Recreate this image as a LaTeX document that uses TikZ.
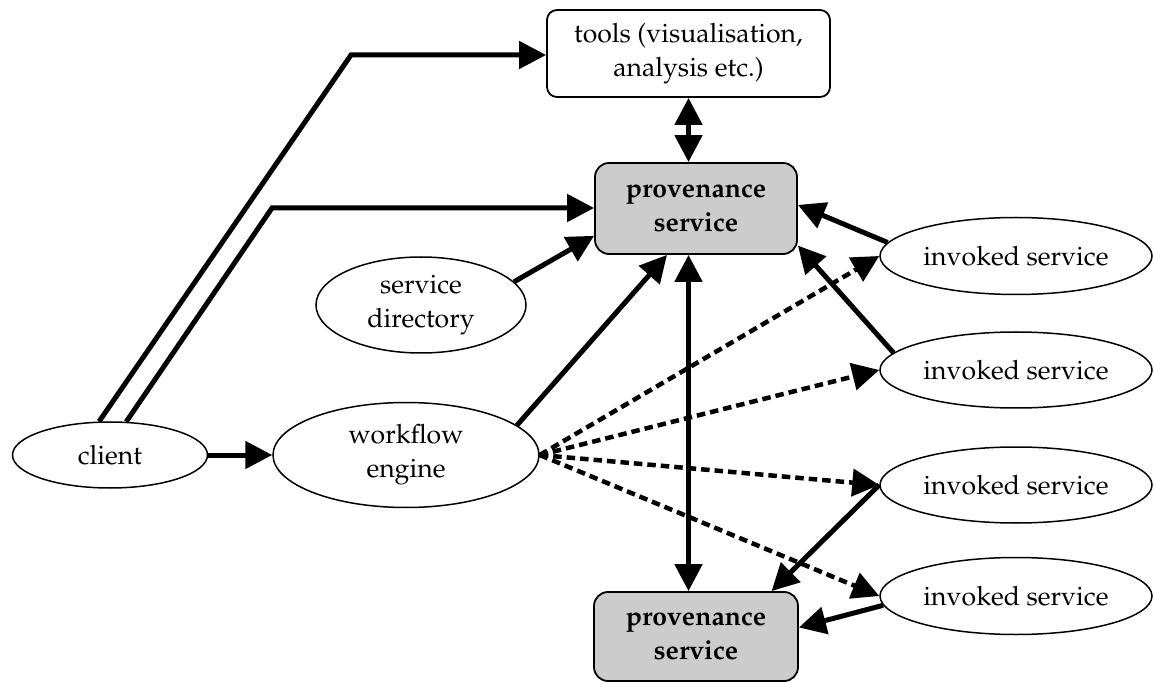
\documentclass[tikz,border=0pt]{standalone}
\usepackage[T1]{fontenc}
\usepackage{mathpazo}
\usetikzlibrary{shapes.geometric,arrows.meta,calc}

\tikzset{
  txt/.style={font=\fontsize{26.6}{34}\selectfont, align=center, inner sep=0pt},
  oval/.style={txt, ellipse, draw, line width=1.5pt},
  toolbox/.style={txt, rectangle, draw, line width=1.8pt, rounded corners=10pt},
  provbox/.style={txt, rectangle, draw, line width=1.8pt, rounded corners=14pt,
                  fill=provgray, font=\fontsize{26.6}{34}\selectfont\bfseries},
  arr/.style={line width=5pt, -{Triangle[length=27pt,width=27pt]}},
  dbl/.style={line width=5pt, {Triangle[length=27pt,width=27pt]}-{Triangle[length=27pt,width=27pt]}},
  darr/.style={line width=4.5pt, -{Triangle[length=27pt,width=27pt]}, dash pattern=on 8.5pt off 5pt},
}
\definecolor{provgray}{HTML}{CCCCCC}

\begin{document}
\begin{tikzpicture}[x=1pt,y=-1pt]
\useasboundingbox (0,0) rectangle (1154,684);

% nodes
\node[oval, minimum width=195pt, minimum height=66pt] (client) at (110,455) {client};
\node[oval, minimum width=266pt, minimum height=105pt] (wf) at (406,455) {workflow\\engine};
\node[oval, minimum width=210pt, minimum height=96pt] (sd) at (421,305) {service\\directory};
\node[toolbox, minimum width=283pt, minimum height=87pt] (tools) at (688.5,53.5) {tools (visualisation,\\analysis etc.)};
\node[provbox, minimum width=202pt, minimum height=91pt] (provA) at (696,208.5) {provenance\\service};
\node[provbox, minimum width=204pt, minimum height=89pt] (provB) at (696,636.5) {provenance\\service};
\node[oval, minimum width=272pt, minimum height=77pt] (inv1) at (1016,256) {invoked service};
\node[oval, minimum width=272pt, minimum height=76pt] (inv2) at (1016,370) {invoked service};
\node[oval, minimum width=272pt, minimum height=76pt] (inv3) at (1016,485) {invoked service};
\node[oval, minimum width=272pt, minimum height=77pt] (inv4) at (1016,596) {invoked service};

% bend points of the client connectors
\coordinate (c1) at (351,55);
\coordinate (c2) at (272,208);

% client connectors
\draw[arr] (client) -- (wf);
\draw[arr, line join=miter] (client.108) -- (c1) -- (c1 -| tools.west);
\draw[arr, line join=miter] (client.64) -- (c2) -- (c2 -| provA.west);

% into the upper provenance service
\draw[arr] (sd.14) -- (provA.195);
\draw[arr] (wf.15) -- (provA.-122.5);
\draw[arr] (inv1.174) -- (provA.2);
\draw[arr] (inv2.172) -- (provA.-20);

% two-way links
\draw[dbl] (tools.south) -- (tools.south |- provA.north);
\draw[dbl] (tools.south |- provA.south) -- (tools.south |- provB.north);

% into the lower provenance service
\draw[arr] (inv3.west) -- (provB.31);
\draw[arr] (inv4.184) -- (provB.5);

% workflow engine invoking services
\draw[darr] (wf.east) -- (inv1.west);
\draw[darr] (wf.east) -- (inv2.west);
\draw[darr] (wf.east) -- (inv3.west);
\draw[darr] (wf.east) -- (inv4.west);
\end{tikzpicture}
\end{document}
